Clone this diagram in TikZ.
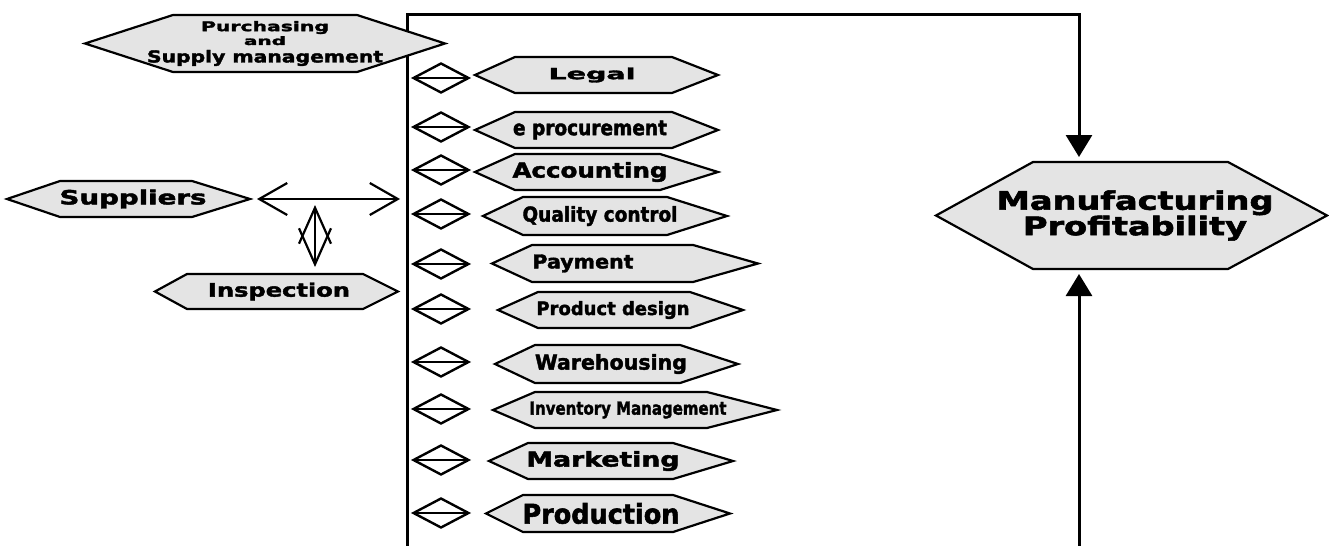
\documentclass[tikz,border=0pt]{standalone}
\usepackage{fontspec}
\usepackage{graphicx}
\usetikzlibrary{arrows.meta,shapes.geometric,fit}
\newfontfamily\hexfont{DejaVu Sans}[FakeBold=2]
\newlength\pxu \setlength\pxu{0.5pt}
% width, total height (px), text
\newcommand\lbl[3]{\resizebox*{#1\pxu}{#2\pxu}{\hexfont\bfseries #3}}
\definecolor{hexgray}{RGB}{228,228,228}
\tikzset{
  hexshape/.style={fill=hexgray, draw=black, line width=1.1pt, line join=miter},
  hexbox/.style={inner sep=0pt, outer sep=0pt},
  hextext/.style={inner sep=0pt, align=center},
  bus/.style={line width=1.5pt},
  feed/.style={bus, -{Triangle[length=11pt,width=13pt]}, shorten >=2.5pt},
  dia/.style={diamond, draw, line width=1.2pt, minimum width=28pt, minimum height=15pt,
    inner sep=0pt, path picture={\draw[line width=1.2pt] (path picture bounding box.west) -- (path picture bounding box.east);}},
  openarrow/.style={line width=1.1pt, {Straight Barb[length=14pt,width=16pt]}-{Straight Barb[length=14pt,width=16pt]}},
  openarrowv/.style={line width=1.1pt, {Straight Barb[length=18pt,width=16pt]}-{Straight Barb[length=18pt,width=16pt]}},
}
% name, left tip x, flat start x, flat end x, right tip x, top y, bottom y, text x, text
\newcommand\hexa[9]{%
  \filldraw[hexshape] (#2,{(#6+#7)/2}) -- (#3,#6) -- (#4,#6) -- (#5,{(#6+#7)/2}) -- (#4,#7) -- (#3,#7) -- cycle;
  \node[hexbox, fit={(#2,#6) (#5,#7)}] (#1) {};
  \node[hextext] (#1-t) at (#8,{(#6+#7)/2}) {#9};
}
\begin{document}
\begin{tikzpicture}[x=0.5pt, y=-0.5pt]
\useasboundingbox (0,0) rectangle (1329,546);

% bus lines
\coordinate (bustop) at (407,14);
\coordinate (busbot) at (407,546);
\coordinate (mfgfeed) at (1079,546);

% hexagons
\hexa{mfg}{936}{1033}{1228}{1327}{162}{269}{1135}{\raisebox{-4.5pt}{\renewcommand\arraystretch{0}\begin{tabular}{@{}c@{}}\lbl{277}{25}{Manufacturing}\\[3pt]\lbl{224}{25}{Profitability}\end{tabular}}}
\draw[feed] (busbot) -- (bustop) -| ([xshift=-26.25pt]mfg.north);
\draw[feed] (mfgfeed) -- ([xshift=-26.25pt]mfg.south);

\hexa{purch}{85}{173}{357}{445}{15}{72}{265}{\raisebox{-1.25pt}{\renewcommand\arraystretch{0}\begin{tabular}{@{}c@{}}\lbl{128}{13}{Purchasing}\\[2.5pt]\lbl{42}{9}{and}\\[2.5pt]\lbl{236}{16}{Supply management}\end{tabular}}}
\hexa{sup}{7}{60}{192}{250}{181}{217}{133}{\lbl{147}{19}{Suppliers}}
\hexa{insp}{155}{187}{363}{398}{274}{309}{279}{\lbl{142}{18}{Inspection}}
\hexa{legal}{475}{515}{672}{718}{57}{93}{592}{\lbl{87}{15}{Legal}}
\hexa{eproc}{475}{515}{672}{718}{112}{148}{590}{\lbl{154}{19}{e procurement}}
\hexa{acc}{475}{515}{660}{718}{154}{190}{590}{\lbl{155}{20}{Accounting}}
\hexa{qc}{483}{523}{667}{727}{197}{235}{600}{\lbl{155}{20}{Quality control}}
\hexa{pay}{492}{532}{693}{758}{245}{282}{583}{\lbl{101}{18}{Payment}}
\hexa{pd}{498}{538}{690}{743}{292}{328}{613}{\lbl{153}{18}{Product design}}
\hexa{wh}{495}{535}{680}{738}{345}{383}{611}{\lbl{152}{20}{Warehousing}}
\hexa{inv}{493}{535}{707}{777}{392}{428}{628}{\lbl{197}{17}{Inventory Management}}
\hexa{mkt}{489}{528}{673}{733}{443}{479}{603}{\lbl{153}{20}{Marketing}}
\hexa{prod}{486}{523}{673}{730}{495}{532}{601}{\lbl{157}{21}{Production}}

% diamonds
\node[dia] (d1) at (441,78) {};
\node[dia] (d2) at (441,127) {};
\node[dia] (d3) at (441,170) {};
\node[dia] (d4) at (441,214) {};
\node[dia] (d5) at (441,264) {};
\node[dia] (d6) at (441,309) {};
\node[dia] (d7) at (441,362) {};
\node[dia] (d8) at (441,409) {};
\node[dia] (d9) at (441,460) {};
\node[dia] (d10) at (441,513) {};

% supplier arrows
\coordinate (jn) at (315,199);
\draw[openarrow, shorten <=3.5pt, shorten >=3.5pt] (sup.east) -- (sup.east -| bustop);
\draw[openarrowv, shorten <=3pt, shorten >=3.5pt] (jn) -- (jn |- insp.north);
\end{tikzpicture}
\end{document}
